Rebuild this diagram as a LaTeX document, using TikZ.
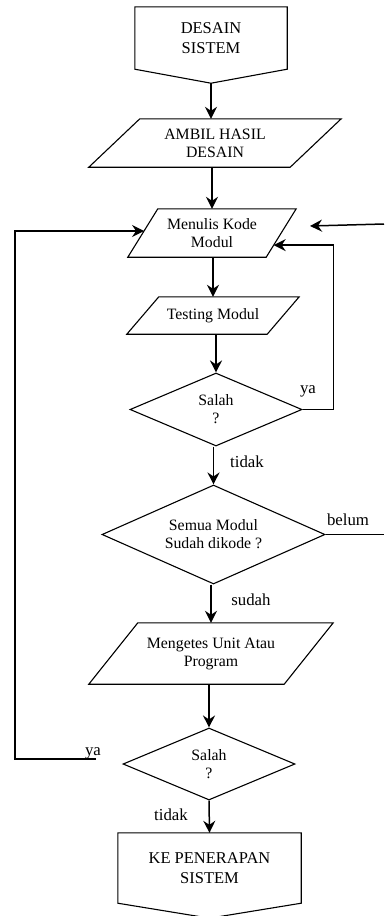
\documentclass[tikz,border=0pt]{standalone}
\usepackage{fontspec}
\setmainfont{Liberation Serif}
\usetikzlibrary{shapes.geometric,calc,arrows.meta}
\begin{document}
\begin{tikzpicture}[x=1pt,y=-1pt,
  outline/.style={draw=black,line width=1.1pt,line join=miter},
  flow/.style={draw=black,line width=1.5pt,-{Stealth[length=12pt,width=12pt,inset=4pt]}},
  link/.style={draw=black,line width=1.5pt},
  txt/.style={font=\fontsize{15.8}{18}\selectfont,align=center,inner sep=0pt},
  bigtxt/.style={font=\fontsize{16.5}{20}\selectfont,align=center,inner sep=0pt},
  lbl/.style={font=\fontsize{16.8}{20}\selectfont,inner sep=0pt,anchor=base},
  boxsize/.style 2 args={minimum width=#1,minimum height=#2},
  decision/.style 2 args={diamond,outline,txt,minimum width=#1,minimum height=#2,aspect=2.3}]

\useasboundingbox (0,0) rectangle (384,916);
\fill[white] (0,0) rectangle (384,916);

% --- start: off-page connector ---
\node[bigtxt,boxsize={152pt}{62pt}] (start) at (211,38) {DESAIN\\SISTEM};
\draw[outline] (start.north west) -- (start.north east) -- (start.south east)
  -- ($(start.south)+(0,14)$) -- (start.south west) -- cycle;
\coordinate (startTip) at ($(start.south)+(0,14)$);

% --- input / process parallelograms ---
\node[txt,boxsize={252pt}{48pt}] (ambil) at (215,143) {AMBIL HASIL\\DESAIN};
\draw[outline] ($(ambil.north west)+(51,0)$) -- (ambil.north east)
  -- ($(ambil.south east)+(-51,0)$) -- (ambil.south west) -- cycle;

\node[txt,boxsize={168pt}{48pt}] (menulis) at (212,233) {Menulis Kode\\Modul};
\draw[outline] ($(menulis.north west)+(30,0)$) -- (menulis.north east)
  -- ($(menulis.south east)+(-30,0)$) -- (menulis.south west) -- cycle;

\node[txt,boxsize={172pt}{37pt}] (testing) at (213,315.5) {Testing Modul};
\draw[outline] ($(testing.north west)+(32,0)$) -- (testing.north east)
  -- ($(testing.south east)+(-32,0)$) -- (testing.south west) -- cycle;

% --- decisions ---
\node[decision={172pt}{73pt}] (salah1) at (216,409.5) {Salah\\?};
\node[decision={223pt}{99pt}] (semua) at (213.5,534.5) {Semua Modul\\Sudah dikode ?};

\node[txt,boxsize={244pt}{61pt}] (mengetes) at (211,653.5) {Mengetes Unit Atau\\Program};
\draw[outline] ($(mengetes.north west)+(49,0)$) -- (mengetes.north east)
  -- ($(mengetes.south east)+(-49,0)$) -- (mengetes.south west) -- cycle;

\node[decision={172pt}{72pt}] (salah2) at (209,764) {Salah\\?};

% --- end: off-page connector ---
\node[bigtxt,boxsize={183pt}{70pt}] (finish) at (209.5,868) {KE PENERAPAN\\SISTEM};
\draw[outline] (finish.north west) -- (finish.north east) -- (finish.south east)
  -- ($(finish.south)+(0,15)$) -- (finish.south west) -- cycle;

% --- main flow ---
\draw[flow] (startTip) -- (startTip |- ambil.north);
\draw[flow] (menulis.north |- ambil.south) -- (menulis.north);
\draw[flow] (testing.north |- menulis.south) -- (testing.north);
\draw[flow] (salah1.north |- testing.south) -- (salah1.north);
\draw[flow] (semua.north |- salah1.south) -- (semua.north);
\draw[flow] (mengetes.north |- semua.south) -- (mengetes.north);
\draw[flow] (salah2.north |- mengetes.south) -- (salah2.north);
\draw[flow] (salah2.south) -- (finish.north);

% --- loops back to Menulis Kode Modul ---
\coordinate (mR) at ($(menulis.north east)!0.75!($(menulis.south east)+(-30,0)$)$);
\draw[flow] (salah1.east) -- ++(31,0) |- (mR);

\coordinate (rIn) at (384,224);
\coordinate (rTip) at (310,226);
\draw[flow] (rIn) -- (rTip);

\coordinate (rOut) at (384,534.5);
\draw[link] (semua.east) -- (rOut);

\coordinate (mL) at ($($(menulis.north west)+(30,0)$)!0.458!(menulis.south west)$);
\coordinate (lEnd) at (96,759);
\draw[flow] (lEnd) -- (15,759) |- (mL);

% --- branch labels ---
\node[lbl] (ya1) at (308,393) {ya};
\node[lbl] (tidak1) at (247,467) {tidak};
\node[lbl] (belum) at (348,525) {belum};
\node[lbl] (sudah) at (251,605) {sudah};
\node[lbl] (ya2) at (93,755) {ya};
\node[lbl] (tidak2) at (171,820) {tidak};
\end{tikzpicture}
\end{document}
